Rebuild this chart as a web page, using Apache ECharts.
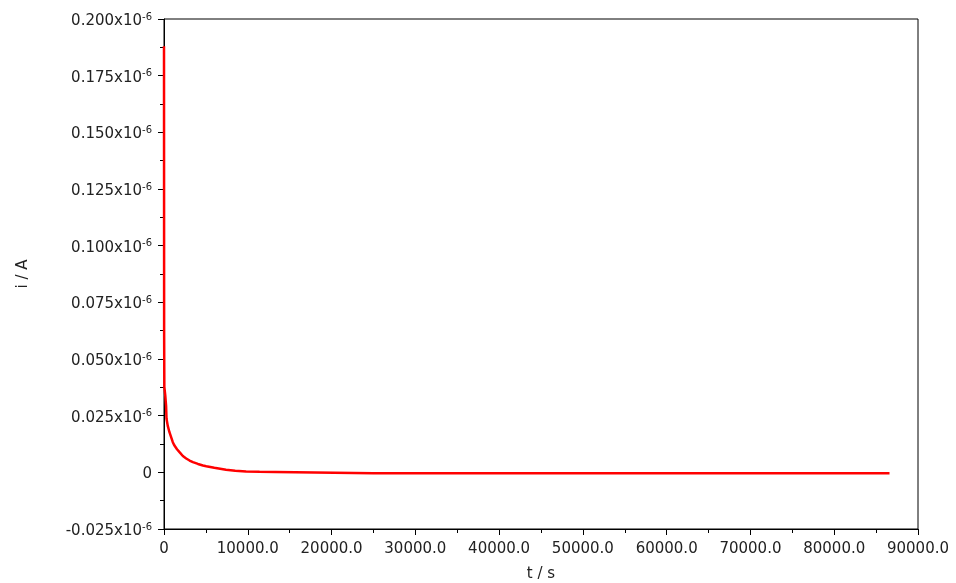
<!DOCTYPE html>
<html>
<head>
<meta charset="utf-8">
<title>Current transient</title>
<script src="https://cdn.jsdelivr.net/npm/echarts@6/dist/echarts.min.js"></script>
<style>
  html, body { margin: 0; padding: 0; background: #fff; }
  #chart { width: 956px; height: 583px; }
</style>
</head>
<body>
<div id="chart"></div>
<script>
// Chronoamperometric current decay, current in units of 1e-6 A
const timeS = [0, 15, 40, 150, 250, 300, 450, 650, 850, 1050, 1250, 1550, 1850, 2250, 2650, 3050, 3450, 4050, 4650, 5050, 6000, 7400, 8500, 9800, 11400, 13300, 13500, 25000, 40000, 55000, 70000, 86600];
const currentE6 = [0.188, 0.0625, 0.0377, 0.0340, 0.0293, 0.0236, 0.0205, 0.0177, 0.0155, 0.0133, 0.0118, 0.0102, 0.0089, 0.0072, 0.0061, 0.0052, 0.0045, 0.0037, 0.0030, 0.0027, 0.0020, 0.0011, 0.0007, 0.0004, 0.0003, 0.0002, -0.0004, -0.0004, -0.0004, -0.0004, -0.0004, -0.0004];

const xTicks = { min: 0, max: 90000, step: 10000 };
const yTicks = { min: -0.025, max: 0.2, step: 0.025 };

const FONT = 'DejaVu Sans';
const TXT = '#222';

const chart = echarts.init(document.getElementById('chart'));
chart.setOption({
  animation: false,
  backgroundColor: '#fff',
  grid: {
    left: 164, top: 19, right: 38, bottom: 54,
    outerBoundsMode: 'none',
    containLabel: false,
    show: true, borderColor: '#000', borderWidth: 1, backgroundColor: 'transparent'
  },
  xAxis: {
    type: 'value',
    min: xTicks.min, max: xTicks.max, interval: xTicks.step,
    name: 't / s', nameLocation: 'middle', nameGap: 38,
    nameTextStyle: { fontFamily: FONT, fontSize: 15, color: TXT },
    axisLine: { show: true, onZero: false, lineStyle: { color: '#000', width: 1 } },
    axisTick: { show: true, length: 6, lineStyle: { color: '#000' } },
    minorTick: { show: true, splitNumber: 2, length: 4, lineStyle: { color: '#000' } },
    splitLine: { show: false },
    axisLabel: {
      margin: 13, fontFamily: FONT, fontSize: 15, color: TXT,
      formatter: v => (v === 0 ? '0' : v.toFixed(1))
    }
  },
  yAxis: {
    type: 'value',
    min: yTicks.min, max: yTicks.max, interval: yTicks.step,
    name: 'i / A', nameLocation: 'middle', nameGap: 133, nameRotate: 90,
    nameTextStyle: { fontFamily: FONT, fontSize: 15, color: TXT },
    axisLine: { show: true, onZero: false, lineStyle: { color: '#000', width: 1 } },
    axisTick: { show: true, length: 6, lineStyle: { color: '#000' } },
    minorTick: { show: true, splitNumber: 2, length: 4, lineStyle: { color: '#000' } },
    splitLine: { show: false },
    axisLabel: {
      margin: 12, fontFamily: FONT, fontSize: 15, color: TXT,
      padding: [4, 0, 0, 0],
      formatter: v => (Math.abs(v) < 1e-9 ? '{b|0}' : '{b|' + v.toFixed(3) + 'x10}{sup|-6}'),
      rich: {
        b: { fontFamily: FONT, fontSize: 15, color: TXT, lineHeight: 18 },
        sup: { fontFamily: FONT, fontSize: 10, color: TXT, lineHeight: 10, verticalAlign: 'top' }
      }
    }
  },
  series: [{
    type: 'line',
    data: timeS.map((t, k) => [t, currentE6[k]]),
    showSymbol: false,
    lineStyle: { color: '#ff0000', width: 2.5 },
    itemStyle: { color: '#ff0000' }
  }]
});
</script>
</body>
</html>
